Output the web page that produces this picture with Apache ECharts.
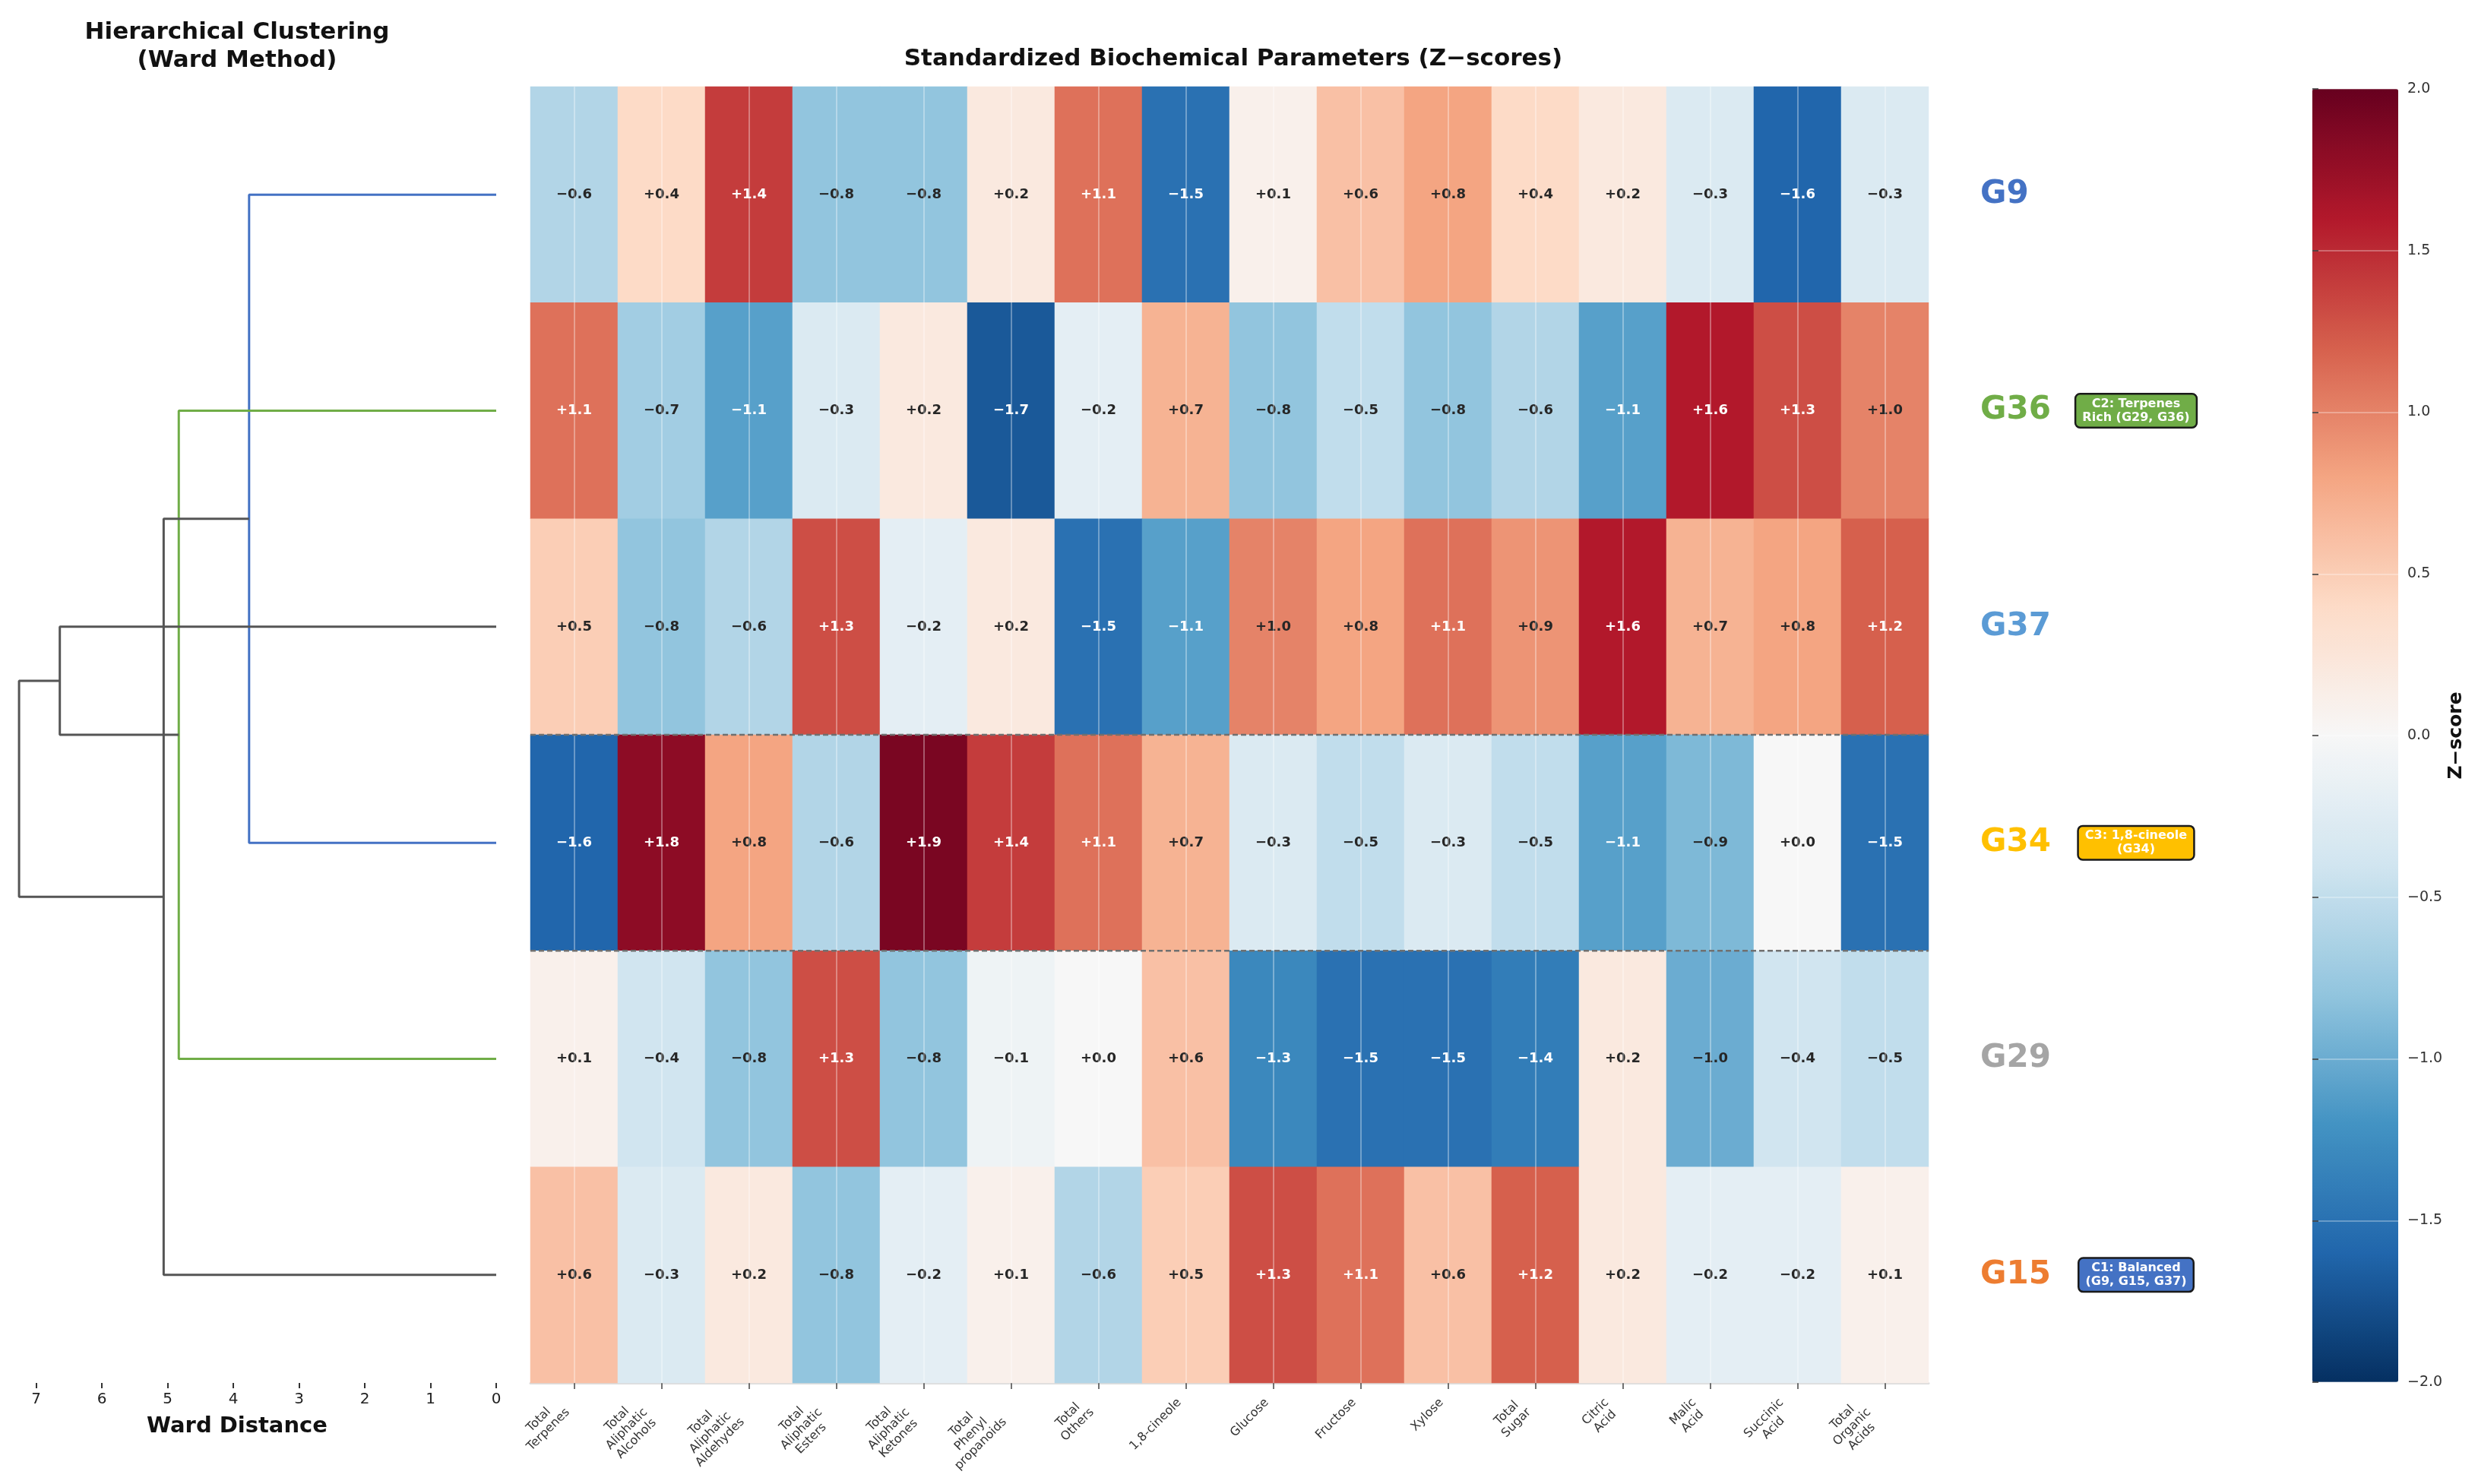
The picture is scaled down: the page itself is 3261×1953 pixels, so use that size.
<!DOCTYPE html>
<html>
<head>
<meta charset="utf-8">
<title>Hierarchical clustering heatmap</title>
<script src="https://cdn.jsdelivr.net/npm/echarts@6/dist/echarts.min.js"></script>
<style>
  html, body { margin: 0; padding: 0; background: #fff; }
  #main { width: 3261px; height: 1953px; }
</style>
</head>
<body>
<div id="main"></div>
<script>
// rows (top to bottom, dendrogram leaf order)
var rowLabels = ['G9', 'G36', 'G37', 'G34', 'G29', 'G15'];
var rowColors = ['#4472C4', '#70AD47', '#5B9BD5', '#FFC000', '#A5A5A5', '#ED7D31'];

// columns
var paramLabels = [
    'Total\nTerpenes', 'Total\nAliphatic\nAlcohols', 'Total\nAliphatic\nAldehydes',
    'Total\nAliphatic\nEsters', 'Total\nAliphatic\nKetones', 'Total\nPhenyl\npropanoids',
    'Total\nOthers', '1,8-cineole', 'Glucose', 'Fructose', 'Xylose', 'Total\nSugar',
    'Citric\nAcid', 'Malic\nAcid', 'Succinic\nAcid', 'Total\nOrganic\nAcids'
];

// z-scores per row
var zG9  = [-0.6, 0.4, 1.4, -0.8, -0.8, 0.2, 1.1, -1.5, 0.1, 0.6, 0.8, 0.4, 0.2, -0.3, -1.6, -0.3];
var zG36 = [1.1, -0.7, -1.1, -0.3, 0.2, -1.7, -0.2, 0.7, -0.8, -0.5, -0.8, -0.6, -1.1, 1.6, 1.3, 1.0];
var zG37 = [0.5, -0.8, -0.6, 1.3, -0.2, 0.2, -1.5, -1.1, 1.0, 0.8, 1.1, 0.9, 1.6, 0.7, 0.8, 1.2];
var zG34 = [-1.6, 1.8, 0.8, -0.6, 1.9, 1.4, 1.1, 0.7, -0.3, -0.5, -0.3, -0.5, -1.1, -0.9, 0.0, -1.5];
var zG29 = [0.1, -0.4, -0.8, 1.3, -0.8, -0.1, 0.0, 0.6, -1.3, -1.5, -1.5, -1.4, 0.2, -1.0, -0.4, -0.5];
var zG15 = [0.6, -0.3, 0.2, -0.8, -0.2, 0.1, -0.6, 0.5, 1.3, 1.1, 0.6, 1.2, 0.2, -0.2, -0.2, 0.1];
var zRows = [zG9, zG36, zG37, zG34, zG29, zG15];

// ward linkage (merge i creates node 'm' + i)
var mergeLeft   = ['G9', 'G36', 'm0', 'G37', 'm2'];
var mergeRight  = ['G34', 'G29', 'G15', 'm1', 'm3'];
var mergeHeight = [3.76, 4.83, 5.06, 6.64, 7.26];
var mergeColor  = ['#4472C4', '#70AD47', '#555555', '#555555', '#555555'];

var distanceTicks = [0, 1, 2, 3, 4, 5, 6, 7];

// highlighted row + cluster notes
var highlightRow = 'G34';
var noteRows   = ['G36', 'G34', 'G15'];
var noteTexts  = ['C2: Terpenes\nRich (G29, G36)', 'C3: 1,8-cineole\n(G34)', 'C1: Balanced\n(G9, G15, G37)'];
var noteColors = ['#70AD47', '#FFC000', '#4472C4'];

var rdbu = ['#053061', '#2166ac', '#4393c3', '#92c5de', '#d1e5f0', '#f7f7f7',
            '#fddbc7', '#f4a582', '#d6604d', '#b2182b', '#67001f'];

function fmtSigned(v) {
    return (v >= 0 ? '+' : '\u2212') + Math.abs(v).toFixed(1);
}

var heatData = [];
zRows.forEach(function (row, r) {
    row.forEach(function (v, c) {
        heatData.push({
            value: [c, r, v],
            label: { color: Math.abs(v) > 1.0 ? '#ffffff' : '#262626' }
        });
    });
});

// dendrogram links
var nodeY = {}, nodeH = {};
rowLabels.forEach(function (name, i) { nodeY[name] = i; nodeH[name] = 0; });
var series = [];
mergeHeight.forEach(function (h, i) {
    var a = mergeLeft[i], b = mergeRight[i];
    series.push({
        type: 'line',
        xAxisIndex: 0, yAxisIndex: 0,
        data: [[nodeH[a], nodeY[a]], [h, nodeY[a]], [h, nodeY[b]], [nodeH[b], nodeY[b]]],
        symbol: 'none',
        silent: true,
        lineStyle: { color: mergeColor[i], width: 3 },
        z: 3
    });
    nodeY['m' + i] = (nodeY[a] + nodeY[b]) / 2;
    nodeH['m' + i] = h;
});

var heatIndex = series.length;
series.push({
    type: 'heatmap',
    xAxisIndex: 1, yAxisIndex: 1,
    data: heatData,
    label: {
        show: true,
        fontSize: 18,
        fontWeight: 'bold',
        formatter: function (p) { return fmtSigned(p.value[2]); }
    },
    itemStyle: { borderWidth: 0 },
    emphasis: { disabled: true },
    markLine: {
        silent: true,
        symbol: 'none',
        label: { show: false },
        lineStyle: { color: 'rgba(255,255,255,0.45)', width: 1.5, type: 'solid' },
        data: paramLabels.map(function (p) { return { xAxis: p }; })
    }
});

// dashed frame around highlighted row
var hi = rowLabels.indexOf(highlightRow);
[hi - 0.5, hi + 0.5].forEach(function (b) {
    series.push({
        type: 'line',
        xAxisIndex: 2, yAxisIndex: 2,
        data: [[0, b], [1, b]],
        symbol: 'none',
        silent: true,
        lineStyle: { color: '#707070', width: 2.5, type: [7, 4] },
        z: 5
    });
});

var myChart = echarts.init(document.getElementById('main'));
var option = {
    backgroundColor: '#ffffff',
    animation: false,
    textStyle: { fontFamily: 'DejaVu Sans' },
    title: [{
        text: 'Hierarchical Clustering\n(Ward Method)',
        left: 307, top: 19, textAlign: 'center',
        textStyle: { fontSize: 31, fontWeight: 'bold', color: '#111', lineHeight: 37 }
    }, {
        text: 'Standardized Biochemical Parameters (Z\u2212scores)',
        left: 1618, top: 57, textAlign: 'center',
        textStyle: { fontSize: 31, fontWeight: 'bold', color: '#111' }
    }, {
        text: 'Ward Distance',
        left: 307, top: 1858, textAlign: 'center',
        textStyle: { fontSize: 29, fontWeight: 'bold', color: '#111' }
    }],
    grid: [
        { left: 0, top: 114, width: 653, height: 1706 },
        { left: 698, top: 114, width: 1840, height: 1706 },
        { left: 698, top: 114, width: 1840, height: 1706 },
        { left: 3043, top: 117, width: 113, height: 1702 }
    ],
    xAxis: [{
        type: 'value', gridIndex: 0, inverse: true, min: 0, max: 7.55,
        axisLine: { show: false, onZero: false },
        splitLine: { show: false },
        axisTick: { show: true, customValues: distanceTicks, length: 7, lineStyle: { color: '#333', width: 2 } },
        axisLabel: {
            customValues: distanceTicks, fontSize: 20, color: '#222', margin: 12,
            formatter: function (v) { return v % 1 === 0 ? String(v) : ''; }
        }
    }, {
        type: 'category', gridIndex: 1, data: paramLabels,
        axisLine: { show: true, onZero: false, lineStyle: { color: '#dddddd', width: 3 } },
        axisTick: { show: true, alignWithLabel: true, length: 8, lineStyle: { color: '#444', width: 1.5 } },
        axisLabel: { show: false },   // drawn below as rotated, centred blocks
        splitLine: { show: false }
    }, {
        type: 'value', gridIndex: 2, min: 0, max: 1, show: false
    }, {
        type: 'value', gridIndex: 3, min: 0, max: 1, show: false
    }],
    yAxis: [{
        type: 'value', gridIndex: 0, inverse: true, min: -0.5, max: 5.5, show: false
    }, {
        type: 'category', gridIndex: 1, inverse: true, position: 'right',
        data: rowLabels.map(function (g, i) {
            return { value: g, textStyle: { color: rowColors[i] } };
        }),
        axisLine: { show: false },
        axisTick: { show: false },
        axisLabel: { margin: 68, fontSize: 42, fontWeight: 'bold' }
    }, {
        type: 'value', gridIndex: 2, inverse: true, min: -0.5, max: 5.5, show: false
    }, {
        type: 'value', gridIndex: 3, min: -2, max: 2, interval: 0.5, position: 'right', z: 10,
        axisLine: { show: false },
        axisTick: { show: true, length: 8, lineStyle: { color: '#333', width: 1.5 } },
        axisLabel: {
            fontSize: 19, color: '#333', margin: 12,
            formatter: function (v) { return (v < 0 ? '\u2212' : '') + Math.abs(v).toFixed(1); }
        },
        splitLine: { show: true, lineStyle: { color: 'rgba(255,255,255,0.4)', width: 1.5 } },
        name: 'Z\u2212score', nameLocation: 'middle', nameRotate: 90, nameGap: 64,
        nameTextStyle: { fontSize: 25, fontWeight: 'bold', color: '#111' }
    }],
    visualMap: {
        type: 'continuous',
        min: -2, max: 2,
        seriesIndex: heatIndex,
        calculable: false,
        hoverLink: false,
        orient: 'vertical',
        left: 3043, top: 117,
        itemWidth: 113, itemHeight: 1702,
        padding: 0,
        inRange: { color: rdbu }
    },
    series: series
};
myChart.setOption(option);

var graphics = [];

// cluster note boxes beside the row labels
noteRows.forEach(function (g, i) {
    var pt = myChart.convertToPixel({ xAxisIndex: 1, yAxisIndex: 1 }, [0, rowLabels.indexOf(g)]);
    graphics.push({
        type: 'text',
        x: 2811, y: pt[1],
        z: 20,
        style: {
            text: noteTexts[i],
            fill: '#ffffff',
            font: 'bold 16px "DejaVu Sans"',
            lineHeight: 18,
            align: 'center',
            verticalAlign: 'middle',
            backgroundColor: noteColors[i],
            borderColor: '#1a1a1a',
            borderWidth: 2.5,
            borderRadius: 5,
            padding: [3, 8]
        }
    });
});

// column labels: 45 degree, lines centred, bounding box top-right at the tick
var labelFont = '16px "DejaVu Sans"';
var labelLH = 18;
var ctx = document.createElement('canvas').getContext('2d');
ctx.font = labelFont;
var lastRow = rowLabels.length - 1;
var p5 = myChart.convertToPixel({ xAxisIndex: 1, yAxisIndex: 1 }, [0, lastRow]);
var p4 = myChart.convertToPixel({ xAxisIndex: 1, yAxisIndex: 1 }, [0, lastRow - 1]);
var axisY = p5[1] + (p5[1] - p4[1]) / 2;
paramLabels.forEach(function (p, i) {
    var lines = p.split('\n');
    var w = Math.max.apply(null, lines.map(function (l) { return ctx.measureText(l).width; }));
    var h = lines.length * labelLH;
    var side = (w + h) * Math.SQRT1_2;
    var tx = myChart.convertToPixel({ xAxisIndex: 1, yAxisIndex: 1 }, [i, lastRow])[0];
    graphics.push({
        type: 'text',
        x: tx - 2 - side / 2,
        y: axisY + 17 + side / 2,
        rotation: Math.PI / 4,
        silent: true,
        style: {
            text: p,
            fill: '#333333',
            font: labelFont,
            lineHeight: labelLH,
            align: 'center',
            verticalAlign: 'middle'
        }
    });
});

myChart.setOption({ graphic: graphics });
window.addEventListener('resize', function () { myChart.resize(); });
</script>
</body>
</html>
